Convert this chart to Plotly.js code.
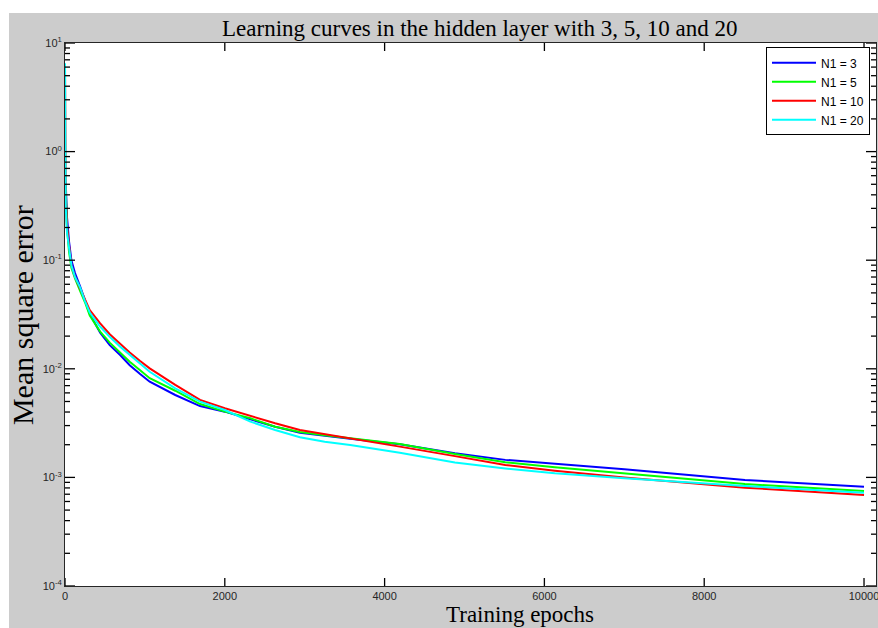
<!DOCTYPE html>
<html>
<head>
<meta charset="utf-8">
<script src="https://cdn.plot.ly/plotly-3.0.1.min.js"></script>
<style>
  html, body { margin: 0; padding: 0; background: #ffffff; }
  #bg { position: absolute; left: 9px; top: 13px; width: 869px; height: 615px; background: #cccccc; }
  #chart { position: absolute; left: 0; top: 0; width: 878px; height: 628px; overflow: hidden; }
</style>
</head>
<body>
<div id="bg"></div>
<div id="chart"></div>
<script>
const epochs = [0, 10, 25, 50, 80, 125, 190, 250, 310, 440, 560, 690, 810, 940, 1060, 1380, 1690, 2000, 2320, 2630, 2940, 3250, 3570, 4190, 4880, 5510, 6130, 7000, 8510, 10000];
const mseN3  = [0.55, 0.5, 0.25, 0.15, 0.10, 0.076, 0.057, 0.042, 0.032, 0.0215, 0.0165, 0.0134, 0.0108, 0.00895, 0.0076, 0.00574, 0.00454, 0.00403, 0.00343, 0.00293, 0.00258, 0.00244, 0.00227, 0.00202, 0.00167, 0.00145, 0.00133, 0.00119, 0.000946, 0.000822];
const mseN5  = [0.5, 0.45, 0.2, 0.12, 0.085, 0.068, 0.052, 0.041, 0.031, 0.022, 0.0174, 0.0142, 0.0116, 0.0097, 0.0082, 0.00628, 0.00474, 0.00403, 0.0035, 0.00293, 0.00262, 0.00244, 0.00228, 0.00203, 0.00164, 0.00138, 0.00124, 0.00109, 0.000869, 0.00075];
const mseN10 = [6.0, 0.38, 0.2, 0.13, 0.09, 0.07, 0.055, 0.044, 0.0347, 0.0262, 0.0208, 0.0170, 0.0141, 0.0118, 0.0101, 0.0071, 0.00517, 0.00433, 0.00367, 0.00315, 0.00273, 0.00251, 0.00229, 0.00192, 0.00157, 0.0013, 0.00115, 0.001, 0.000804, 0.000689];
const mseN20 = [6.5, 0.3, 0.18, 0.13, 0.09, 0.07, 0.056, 0.042, 0.033, 0.0244, 0.0197, 0.0160, 0.0134, 0.0112, 0.0094, 0.0066, 0.00498, 0.00417, 0.00326, 0.00273, 0.00234, 0.00213, 0.00199, 0.00169, 0.00137, 0.00121, 0.00109, 0.00098, 0.000833, 0.000723];
const seriesNames = ["N1 = 3", "N1 = 5", "N1 = 10", "N1 = 20"];
const seriesColors = ["#0000ff", "#00ff00", "#ff0000", "#00ffff"];
const xTickVals = [0, 2000, 4000, 6000, 8000, 10000];
const xTickText = ["0", "2000", "4000", "6000", "8000", "10000"];
const yDecades = [-4, -3, -2, -1, 0, 1];
const yMajorText = ["10<sup>-4</sup>", "10<sup>-3</sup>", "10<sup>-2</sup>", "10<sup>-1</sup>", "10<sup>0</sup>", "10<sup>1</sup>"];
const yMinorMantissas = [2, 3, 4, 5, 6, 7, 8, 9];

const yMajorVals = yDecades.map(d => Math.pow(10, d));
const yMinorVals = [];
yDecades.forEach(d => { if (d < 1) yMinorMantissas.forEach(m => yMinorVals.push(m * Math.pow(10, d))); });

const allSeries = [mseN3, mseN5, mseN10, mseN20];
const traces = allSeries.map((ys, i) => ({
  x: epochs, y: ys, type: "scatter", mode: "lines",
  name: seriesNames[i],
  line: { color: seriesColors[i], width: 2 }
}));

const PW = 878 - 65 - 2, PH = 628 - 43 - 42;
const tickCol = "#000000";
const shapes = [];
function yTick(v, len) {
  shapes.push({ type: "line", layer: "above", xref: "paper", yref: "y", x0: 0, x1: len / PW, y0: v, y1: v, line: { color: tickCol, width: 1.3 } });
  shapes.push({ type: "line", layer: "above", xref: "paper", yref: "y", x0: 1 - len / PW, x1: 1, y0: v, y1: v, line: { color: tickCol, width: 1.3 } });
}
function xTick(v, len) {
  shapes.push({ type: "line", layer: "above", xref: "x", yref: "paper", x0: v, x1: v, y0: 0, y1: len / PH, line: { color: tickCol, width: 1.3 } });
  shapes.push({ type: "line", layer: "above", xref: "x", yref: "paper", x0: v, x1: v, y0: 1 - len / PH, y1: 1, line: { color: tickCol, width: 1.3 } });
}
yMajorVals.forEach(v => yTick(v, 10));
yMinorVals.forEach(v => yTick(v, 5));
xTickVals.forEach(v => xTick(v, 8));

const tickFont = { family: "Liberation Sans, Arial, sans-serif", size: 11, color: "#262626" };
const serif = "Liberation Serif, Times New Roman, serif";

const layout = {
  width: 878, height: 628,
  margin: { l: 65, r: 2, t: 43, b: 42 },
  paper_bgcolor: "rgba(0,0,0,0)",
  plot_bgcolor: "#ffffff",
  showlegend: true,
  legend: {
    x: 0.9926, y: 0.992, xanchor: "right", yanchor: "top",
    bgcolor: "#ffffff", bordercolor: "#000000", borderwidth: 1,
    font: { family: "Liberation Sans, Arial, sans-serif", size: 12, color: "#000000" },
    itemwidth: 44,
    tracegroupgap: 0
  },
  xaxis: {
    range: [0, 10150],
    tickvals: xTickVals, ticktext: xTickText,
    ticklabeloverflow: "allow",
    ticks: "",
    showline: true, linecolor: "#262626", linewidth: 1, mirror: true,
    showgrid: false, zeroline: false,
    tickfont: tickFont
  },
  yaxis: {
    type: "log", range: [-4, 1],
    tickvals: yMajorVals, ticktext: yMajorText,
    ticks: "",
    showline: true, linecolor: "#262626", linewidth: 1, mirror: true,
    showgrid: false, zeroline: false,
    tickfont: tickFont
  },
  shapes: shapes,
  annotations: [
    { text: "Learning curves in the hidden layer with 3, 5, 10 and 20", xref: "paper", yref: "paper",
      x: 0.5117, y: 1.0276, xanchor: "center", yanchor: "middle", showarrow: false,
      font: { family: serif, size: 23, color: "#000000" } },
    { text: "Training epochs", xref: "paper", yref: "paper",
      x: 0.561, y: -0.0534, xanchor: "center", yanchor: "middle", showarrow: false,
      font: { family: serif, size: 23, color: "#000000" } },
    { text: "Mean square error", xref: "paper", yref: "paper",
      x: -0.053, y: 0.499, xanchor: "center", yanchor: "middle", showarrow: false, textangle: -90,
      font: { family: serif, size: 30, color: "#000000" } }
  ]
};

Plotly.newPlot("chart", traces, layout, { displayModeBar: false, staticPlot: true });
</script>
</body>
</html>
